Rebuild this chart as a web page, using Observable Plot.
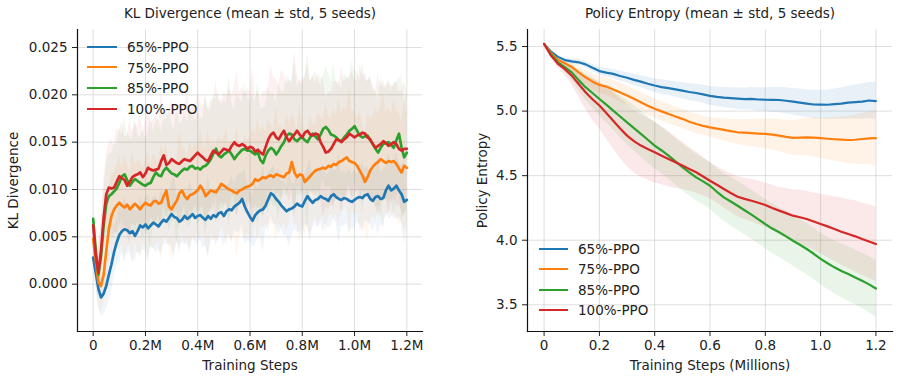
<!DOCTYPE html>
<html><head><meta charset="utf-8">
<script src="https://cdn.jsdelivr.net/npm/d3@7"></script>
<script src="https://cdn.jsdelivr.net/npm/@observablehq/plot@0.6"></script>
<style>
body{margin:0;background:#fff;}
#wrap{position:relative;width:899px;height:380px;display:flex;font-family:"DejaVu Sans";}
.leg{position:absolute;left:0;top:0;font-family:"DejaVu Sans";font-size:13.5px;color:#222;}
.leg .row{position:absolute;white-space:nowrap;line-height:16px;transform:translateY(-50%);}
.leg .sw{position:absolute;height:0;border-top-style:solid;}
</style></head><body><div id="wrap"></div><script>
const seriesNames = ["65%-PPO", "75%-PPO", "85%-PPO", "100%-PPO"];
const seriesColors = ["#1f77b4", "#ff7f0e", "#2ca02c", "#d62728"];

// KL divergence panel: x in millions of steps, sampled every 0.01M
const klStepM = 0.01;
const klBlue = [
0.0028,0.0012,-0.0005,-0.0014,-0.0010,-0.0002,0.0010,0.0021,0.0034,0.0044,
0.0052,0.0056,0.0058,0.0057,0.0054,0.0056,0.0051,0.0056,0.0062,0.0060,
0.0063,0.0059,0.0062,0.0065,0.0063,0.0061,0.0065,0.0068,0.0066,0.0070,
0.0074,0.0071,0.0070,0.0066,0.0068,0.0072,0.0069,0.0071,0.0074,0.0070,
0.0072,0.0073,0.0070,0.0068,0.0072,0.0069,0.0073,0.0071,0.0075,0.0076,
0.0072,0.0077,0.0079,0.0078,0.0082,0.0084,0.0086,0.0090,0.0082,0.0076,
0.0071,0.0067,0.0073,0.0076,0.0078,0.0079,0.0083,0.0090,0.0096,0.0094,
0.0090,0.0087,0.0083,0.0080,0.0077,0.0079,0.0080,0.0082,0.0085,0.0083,
0.0082,0.0088,0.0093,0.0089,0.0086,0.0089,0.0090,0.0093,0.0091,0.0090,
0.0088,0.0093,0.0095,0.0092,0.0090,0.0089,0.0091,0.0090,0.0088,0.0087,
0.0089,0.0091,0.0092,0.0091,0.0094,0.0095,0.0090,0.0088,0.0092,0.0093,
0.0090,0.0091,0.0099,0.0104,0.0099,0.0101,0.0104,0.0099,0.0095,0.0087,
0.0089];
const klOrange = [
0.0048,0.0025,0.0002,-0.0002,0.0010,0.0035,0.0058,0.0072,0.0079,0.0083,
0.0086,0.0083,0.0081,0.0084,0.0079,0.0082,0.0085,0.0082,0.0079,0.0083,
0.0086,0.0084,0.0083,0.0087,0.0088,0.0085,0.0086,0.0093,0.0099,0.0082,
0.0079,0.0084,0.0088,0.0096,0.0099,0.0093,0.0090,0.0094,0.0095,0.0097,
0.0099,0.0104,0.0100,0.0093,0.0096,0.0099,0.0098,0.0097,0.0101,0.0106,
0.0104,0.0102,0.0100,0.0099,0.0097,0.0096,0.0099,0.0100,0.0102,0.0103,
0.0104,0.0106,0.0111,0.0109,0.0111,0.0113,0.0112,0.0114,0.0115,0.0113,
0.0116,0.0115,0.0114,0.0113,0.0117,0.0118,0.0129,0.0118,0.0113,0.0116,
0.0115,0.0108,0.0111,0.0114,0.0117,0.0120,0.0121,0.0122,0.0123,0.0122,
0.0125,0.0124,0.0127,0.0126,0.0129,0.0130,0.0132,0.0134,0.0130,0.0129,
0.0128,0.0125,0.0120,0.0115,0.0108,0.0113,0.0120,0.0124,0.0127,0.0129,
0.0132,0.0130,0.0128,0.0130,0.0129,0.0130,0.0127,0.0122,0.0118,0.0125,
0.0123];
const klGreen = [
0.0069,0.0035,0.0010,0.0030,0.0062,0.0085,0.0093,0.0095,0.0098,0.0101,
0.0107,0.0114,0.0116,0.0110,0.0104,0.0108,0.0111,0.0109,0.0107,0.0105,
0.0104,0.0106,0.0107,0.0113,0.0118,0.0115,0.0114,0.0120,0.0123,0.0120,
0.0117,0.0116,0.0114,0.0117,0.0120,0.0122,0.0121,0.0124,0.0125,0.0122,
0.0123,0.0121,0.0124,0.0125,0.0128,0.0132,0.0138,0.0143,0.0136,0.0134,
0.0137,0.0139,0.0141,0.0137,0.0132,0.0136,0.0139,0.0142,0.0143,0.0141,
0.0141,0.0139,0.0137,0.0139,0.0131,0.0128,0.0136,0.0141,0.0144,0.0142,
0.0137,0.0141,0.0146,0.0150,0.0157,0.0159,0.0158,0.0153,0.0151,0.0154,
0.0155,0.0152,0.0150,0.0155,0.0159,0.0156,0.0153,0.0158,0.0164,0.0166,
0.0163,0.0158,0.0157,0.0155,0.0152,0.0151,0.0155,0.0158,0.0162,0.0164,
0.0167,0.0162,0.0157,0.0155,0.0156,0.0157,0.0152,0.0148,0.0143,0.0139,
0.0144,0.0148,0.0149,0.0150,0.0147,0.0144,0.0152,0.0159,0.0144,0.0134,
0.0139];
const klRed = [
0.0062,0.0030,0.0012,0.0035,0.0070,0.0095,0.0102,0.0101,0.0102,0.0108,
0.0114,0.0112,0.0110,0.0104,0.0108,0.0113,0.0115,0.0116,0.0118,0.0113,
0.0117,0.0123,0.0121,0.0120,0.0121,0.0122,0.0130,0.0136,0.0126,0.0128,
0.0132,0.0130,0.0128,0.0127,0.0130,0.0132,0.0131,0.0130,0.0133,0.0136,
0.0139,0.0136,0.0134,0.0131,0.0130,0.0136,0.0141,0.0139,0.0137,0.0140,
0.0143,0.0142,0.0141,0.0146,0.0150,0.0147,0.0146,0.0148,0.0146,0.0143,
0.0145,0.0144,0.0140,0.0142,0.0139,0.0137,0.0145,0.0153,0.0158,0.0160,
0.0155,0.0153,0.0158,0.0162,0.0155,0.0151,0.0155,0.0158,0.0162,0.0158,
0.0155,0.0160,0.0162,0.0158,0.0157,0.0159,0.0158,0.0150,0.0145,0.0139,
0.0140,0.0143,0.0148,0.0153,0.0152,0.0150,0.0153,0.0155,0.0159,0.0157,
0.0155,0.0157,0.0158,0.0160,0.0159,0.0155,0.0153,0.0148,0.0144,0.0146,
0.0148,0.0151,0.0149,0.0146,0.0148,0.0150,0.0148,0.0143,0.0141,0.0143,
0.0143];
const klBlueStd = [
0.0010,0.0015,0.0018,0.0020,0.0022,0.0025,0.0028,0.0030,0.0026,0.0024,
0.0030,0.0022,0.0035,0.0025,0.0020,0.0032,0.0026,0.0022,0.0030,0.0024,
0.0028,0.0036,0.0022,0.0027,0.0030,0.0024,0.0034,0.0026,0.0023,0.0029,
0.0032,0.0045,0.0025,0.0028,0.0024,0.0030,0.0027,0.0038,0.0024,0.0026,
0.0030,0.0025,0.0033,0.0028,0.0042,0.0026,0.0024,0.0030,0.0027,0.0025,
0.0032,0.0028,0.0026,0.0036,0.0024,0.0029,0.0031,0.0027,0.0040,0.0030,
0.0026,0.0028,0.0032,0.0025,0.0030,0.0046,0.0026,0.0028,0.0024,0.0031,
0.0027,0.0035,0.0025,0.0029,0.0026,0.0040,0.0028,0.0024,0.0030,0.0027,
0.0033,0.0026,0.0030,0.0045,0.0027,0.0025,0.0031,0.0028,0.0036,0.0026,
0.0029,0.0032,0.0025,0.0028,0.0048,0.0027,0.0030,0.0026,0.0034,0.0028,
0.0031,0.0025,0.0029,0.0038,0.0027,0.0030,0.0026,0.0033,0.0028,0.0042,
0.0027,0.0030,0.0025,0.0034,0.0029,0.0026,0.0036,0.0028,0.0031,0.0045,
0.0030];
const klOrangeStd = [
0.0015,0.0020,0.0025,0.0028,0.0030,0.0035,0.0040,0.0045,0.0038,0.0042,
0.0050,0.0040,0.0055,0.0045,0.0038,0.0060,0.0042,0.0048,0.0052,0.0040,
0.0045,0.0058,0.0042,0.0050,0.0047,0.0040,0.0062,0.0045,0.0050,0.0043,
0.0055,0.0048,0.0042,0.0065,0.0046,0.0050,0.0044,0.0058,0.0048,0.0052,
0.0045,0.0060,0.0047,0.0050,0.0068,0.0046,0.0052,0.0049,0.0056,0.0045,
0.0050,0.0062,0.0048,0.0053,0.0047,0.0070,0.0050,0.0046,0.0055,0.0049,
0.0052,0.0058,0.0047,0.0066,0.0050,0.0054,0.0048,0.0060,0.0052,0.0049,
0.0072,0.0051,0.0055,0.0048,0.0062,0.0053,0.0050,0.0057,0.0049,0.0075,
0.0052,0.0056,0.0050,0.0064,0.0053,0.0049,0.0060,0.0055,0.0051,0.0070,
0.0054,0.0050,0.0058,0.0052,0.0066,0.0051,0.0055,0.0049,0.0078,0.0053,
0.0056,0.0050,0.0062,0.0054,0.0051,0.0068,0.0055,0.0052,0.0060,0.0050,
0.0057,0.0072,0.0053,0.0056,0.0051,0.0064,0.0055,0.0060,0.0052,0.0070,
0.0058];
const klGreenStd = [
0.0010,0.0018,0.0025,0.0030,0.0035,0.0040,0.0045,0.0042,0.0050,0.0046,
0.0055,0.0044,0.0062,0.0048,0.0052,0.0045,0.0066,0.0050,0.0047,0.0058,
0.0049,0.0054,0.0070,0.0048,0.0052,0.0060,0.0047,0.0055,0.0050,0.0064,
0.0052,0.0048,0.0072,0.0054,0.0050,0.0058,0.0049,0.0066,0.0053,0.0051,
0.0060,0.0055,0.0050,0.0074,0.0056,0.0052,0.0062,0.0050,0.0068,0.0054,
0.0058,0.0051,0.0080,0.0055,0.0052,0.0064,0.0057,0.0050,0.0070,0.0056,
0.0053,0.0061,0.0055,0.0076,0.0054,0.0058,0.0052,0.0066,0.0056,0.0060,
0.0054,0.0072,0.0057,0.0053,0.0064,0.0058,0.0055,0.0082,0.0057,0.0060,
0.0055,0.0066,0.0095,0.0058,0.0062,0.0056,0.0070,0.0059,0.0054,0.0065,
0.0060,0.0056,0.0078,0.0058,0.0062,0.0055,0.0068,0.0060,0.0057,0.0072,
0.0058,0.0063,0.0056,0.0080,0.0060,0.0057,0.0066,0.0059,0.0062,0.0056,
0.0074,0.0060,0.0058,0.0064,0.0057,0.0069,0.0061,0.0058,0.0076,0.0060,
0.0062];
const klRedStd = [
0.0012,0.0020,0.0026,0.0032,0.0038,0.0042,0.0046,0.0052,0.0045,0.0056,
0.0048,0.0060,0.0046,0.0052,0.0065,0.0048,0.0054,0.0050,0.0062,0.0047,
0.0055,0.0068,0.0050,0.0053,0.0058,0.0049,0.0070,0.0052,0.0056,0.0050,
0.0062,0.0054,0.0051,0.0066,0.0055,0.0050,0.0072,0.0053,0.0057,0.0052,
0.0063,0.0056,0.0052,0.0068,0.0055,0.0059,0.0053,0.0075,0.0056,0.0054,
0.0060,0.0057,0.0066,0.0054,0.0058,0.0078,0.0056,0.0060,0.0055,0.0064,
0.0058,0.0085,0.0056,0.0062,0.0057,0.0066,0.0059,0.0055,0.0072,0.0058,
0.0061,0.0056,0.0068,0.0060,0.0057,0.0064,0.0058,0.0088,0.0060,0.0056,
0.0062,0.0059,0.0070,0.0057,0.0061,0.0066,0.0058,0.0060,0.0074,0.0057,
0.0062,0.0059,0.0066,0.0061,0.0058,0.0080,0.0060,0.0063,0.0057,0.0068,
0.0061,0.0058,0.0072,0.0060,0.0064,0.0059,0.0067,0.0061,0.0058,0.0076,
0.0060,0.0064,0.0059,0.0070,0.0062,0.0058,0.0066,0.0060,0.0063,0.0072,
0.0061];

// Policy entropy panel: x in millions, sampled every 0.025M
const entStepM = 0.025;
const entBlue = [5.52,5.46,5.42,5.395,5.385,5.378,5.362,5.335,5.31,5.298,5.288,5.272,5.258,5.242,5.228,5.212,5.198,5.186,5.178,5.168,5.158,5.148,5.14,5.13,5.118,5.11,5.104,5.1,5.096,5.093,5.094,5.09,5.088,5.087,5.086,5.08,5.073,5.066,5.058,5.051,5.05,5.049,5.054,5.058,5.066,5.07,5.074,5.082,5.078];
const entOrange = [5.52,5.45,5.397,5.37,5.342,5.3,5.262,5.228,5.203,5.19,5.168,5.145,5.12,5.095,5.068,5.042,5.018,4.998,4.978,4.958,4.94,4.918,4.9,4.886,4.874,4.864,4.855,4.845,4.836,4.834,4.83,4.826,4.823,4.818,4.81,4.8,4.792,4.795,4.797,4.794,4.79,4.786,4.782,4.779,4.776,4.778,4.784,4.789,4.79];
const entGreen = [5.52,5.44,5.378,5.34,5.3,5.24,5.185,5.14,5.094,5.05,5.004,4.958,4.913,4.868,4.823,4.778,4.733,4.695,4.655,4.61,4.566,4.526,4.487,4.456,4.422,4.375,4.332,4.3,4.267,4.232,4.198,4.162,4.125,4.09,4.062,4.03,3.996,3.965,3.932,3.895,3.856,3.822,3.79,3.762,3.738,3.712,3.686,3.658,3.626];
const entRed = [5.52,5.43,5.366,5.325,5.275,5.21,5.146,5.092,5.043,4.985,4.926,4.866,4.81,4.768,4.733,4.706,4.681,4.655,4.629,4.603,4.578,4.552,4.526,4.494,4.461,4.43,4.397,4.366,4.337,4.32,4.306,4.29,4.273,4.25,4.229,4.21,4.19,4.178,4.164,4.145,4.126,4.107,4.087,4.066,4.048,4.03,4.009,3.99,3.97];
const entBlueStd = [0,0.005,0.01,0.015,0.02,0.022,0.025,0.028,0.03,0.033,0.035,0.038,0.04,0.043,0.046,0.05,0.053,0.056,0.058,0.06,0.062,0.065,0.067,0.07,0.072,0.075,0.078,0.08,0.083,0.085,0.088,0.09,0.092,0.095,0.098,0.1,0.103,0.106,0.108,0.11,0.112,0.115,0.118,0.122,0.127,0.132,0.137,0.14,0.142];
const entOrangeStd = [0,0.01,0.02,0.03,0.04,0.05,0.055,0.06,0.065,0.068,0.07,0.072,0.075,0.075,0.076,0.075,0.074,0.075,0.076,0.075,0.074,0.075,0.076,0.075,0.075,0.08,0.085,0.09,0.095,0.1,0.105,0.11,0.115,0.12,0.125,0.13,0.135,0.14,0.145,0.15,0.155,0.162,0.168,0.175,0.182,0.19,0.197,0.204,0.21];
const entGreenStd = [0,0.01,0.02,0.04,0.06,0.08,0.1,0.115,0.13,0.14,0.15,0.16,0.17,0.175,0.18,0.18,0.18,0.18,0.18,0.18,0.18,0.18,0.18,0.18,0.18,0.182,0.185,0.187,0.19,0.19,0.19,0.19,0.19,0.192,0.194,0.195,0.196,0.198,0.2,0.2,0.2,0.202,0.205,0.208,0.21,0.212,0.215,0.218,0.22];
const entRedStd = [0,0.015,0.03,0.05,0.07,0.1,0.13,0.16,0.18,0.2,0.22,0.23,0.24,0.245,0.245,0.24,0.235,0.225,0.215,0.2,0.185,0.17,0.16,0.15,0.14,0.14,0.145,0.15,0.155,0.16,0.165,0.168,0.17,0.175,0.18,0.19,0.2,0.21,0.215,0.22,0.23,0.24,0.25,0.26,0.265,0.275,0.28,0.285,0.29];

// axis ticks
const xTicks = [0, 0.2, 0.4, 0.6, 0.8, 1.0, 1.2];
const klYTicks = [0, 0.005, 0.01, 0.015, 0.02, 0.025];
const entYTicks = [3.5, 4.0, 4.5, 5.0, 5.5];
const titles = ["KL Divergence (mean ± std, 5 seeds)", "Policy Entropy (mean ± std, 5 seeds)"];

function build(meansList, stdsList, step) {
  const rows = [];
  meansList.forEach((arr, s) => {
    arr.forEach((v, i) => {
      const sd = stdsList[s][i];
      rows.push({x: +(i * step).toFixed(4), v, lo: v - sd, hi: v + sd, series: seriesNames[s]});
    });
  });
  return rows;
}
const klData = build([klBlue, klOrange, klGreen, klRed], [klBlueStd, klOrangeStd, klGreenStd, klRedStd], klStepM);
const entData = build([entBlue, entOrange, entGreen, entRed], [entBlueStd, entOrangeStd, entGreenStd, entRedStd], entStepM);

const baseStyle = {fontFamily: "DejaVu Sans", fontSize: "13.5px", color: "#222", background: "white", overflow: "visible"};
const gridOpts = {stroke: "#b0b0b0", strokeOpacity: 0.4, strokeWidth: 1};

function panel({width, marginRight, data, yDomain, yTicks, yFmt, xFmt, xLabel, yLabel, yLabelOffset, title, lineWidth, bandOpacity}) {
  return Plot.plot({
    width, height: 380, marginLeft: 77, marginRight, marginTop: 29, marginBottom: 49,
    style: baseStyle,
    x: {domain: [-0.06, 1.26]},
    y: {domain: yDomain},
    color: {domain: seriesNames, range: seriesColors},
    marks: [
      Plot.gridX(xTicks, gridOpts),
      Plot.gridY(yTicks, gridOpts),
      Plot.areaY(data, {x: "x", y1: "lo", y2: "hi", z: "series", fill: "series", fillOpacity: bandOpacity}),
      Plot.lineY(data, {x: "x", y: "v", z: "series", stroke: "series", strokeWidth: lineWidth}),
      Plot.axisX(xTicks, {tickFormat: xFmt, tickSize: 5, tickPadding: 4, label: xLabel, labelAnchor: "center", labelArrow: "none", labelOffset: 38}),
      Plot.axisY(yTicks, {tickFormat: yFmt, tickSize: 5, tickPadding: 5, label: yLabel, labelAnchor: "center", labelArrow: "none", labelOffset: yLabelOffset}),
      Plot.frame({anchor: "left", stroke: "#111", strokeWidth: 1.2}),
      Plot.frame({anchor: "bottom", stroke: "#111", strokeWidth: 1.2}),
      Plot.text([title], {frameAnchor: "top", lineAnchor: "middle", dy: -16, fontSize: 13.5, fill: "#222"})
    ]
  });
}

const wrap = document.getElementById("wrap");
wrap.append(panel({
  width: 450, marginRight: 28, data: klData, yDomain: [-0.005, 0.0269], yTicks: klYTicks,
  yFmt: d => d.toFixed(3), xFmt: d => d === 0 ? "0" : d.toFixed(1) + "M",
  xLabel: "Training Steps", yLabel: "KL Divergence", yLabelOffset: 69, title: titles[0], lineWidth: 2.7, bandOpacity: 0.07
}));
wrap.append(panel({
  width: 449, marginRight: 7, data: entData, yDomain: [3.293, 5.632], yTicks: entYTicks,
  yFmt: d => d.toFixed(1), xFmt: d => d === 0 ? "0" : d.toFixed(1),
  xLabel: "Training Steps (Millions)", yLabel: "Policy Entropy", yLabelOffset: 50, title: titles[1], lineWidth: 2.2, bandOpacity: 0.1
}));

function legend(left, top, rowGap, lineLen, textGap, lw) {
  const box = document.createElement("div");
  box.className = "leg";
  seriesNames.forEach((name, i) => {
    const y = top + i * rowGap;
    const sw = document.createElement("div");
    sw.className = "sw";
    sw.style.left = left + "px";
    sw.style.width = lineLen + "px";
    sw.style.top = (y - lw / 2) + "px";
    sw.style.borderTopWidth = lw + "px";
    sw.style.borderTopColor = seriesColors[i];
    box.append(sw);
    const row = document.createElement("div");
    row.className = "row";
    row.style.left = (left + lineLen + textGap) + "px";
    row.style.top = y + "px";
    row.textContent = name;
    box.append(row);
  });
  wrap.append(box);
}
legend(87, 47, 20.7, 30, 10, 2.6);
legend(539, 249, 20.4, 29, 10, 2.4);
</script></body></html>
